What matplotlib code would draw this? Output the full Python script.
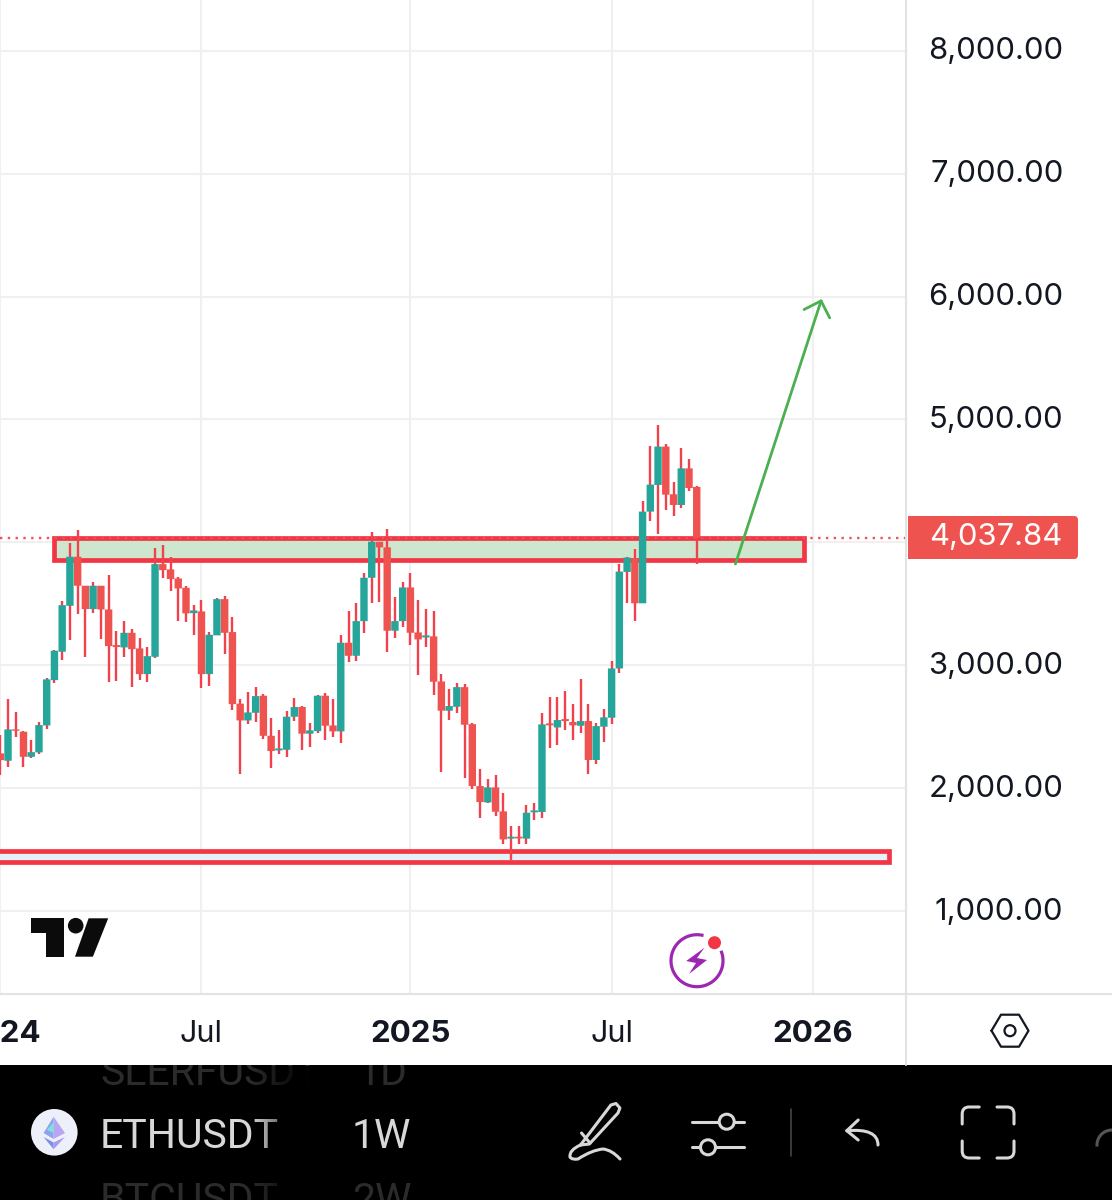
"""
ETHUSDT weekly chart, phone screenshot of the TradingView app.
"""
import matplotlib
matplotlib.use("Agg")
import matplotlib.dates as mdates
import matplotlib.pyplot as plt
import matplotlib.transforms as mtrans
import numpy as np
import pandas as pd
from matplotlib.patches import Circle, FancyBboxPatch, PathPatch, Polygon, Rectangle
from matplotlib.path import Path

plt.rcParams["font.family"] = ["Inter", "DejaVu Sans"]

# ── Data ──────────────────────────────────────────────────────────────────────
opens = [2283, 2223, 2478, 2459, 2255, 2291, 2510, 2879, 3110, 3484,
         3883, 3647, 3457, 3647, 3454, 3164, 3145, 3264, 3137, 2928,
         3069, 3823, 3780, 3706, 3630, 3424, 3438, 2928, 3243, 3538,
         3270, 2687, 2551, 2613, 2752, 2426, 2307, 2312, 2581, 2660,
         2443, 2464, 2752, 2510, 2462, 3183, 3077, 3359, 3712, 4005,
         3959, 3281, 3359, 3633, 3267, 3226, 3235, 2868, 2630, 2662,
         2822, 2521, 2017, 1884, 2006, 1811, 1589, 1605, 1589, 1803,
         1806, 2527, 2494, 2562, 2538, 2508, 2546, 2229, 2500, 2573,
         2974, 3759, 3870, 3504, 4250, 4467, 4779, 4391, 4304, 4602,
         4451]
highs = [2432, 2722, 2622, 2467, 2391, 2540, 2898, 3123, 3522, 3991,
         4100, 3647, 3677, 3647, 3731, 3275, 3359, 3291, 3218, 3150,
         3950, 3978, 3883, 3715, 3644, 3489, 3530, 3267, 3549, 3563,
         3395, 2722, 2779, 2820, 2765, 2567, 2472, 2630, 2730, 2668,
         2527, 2757, 2771, 2725, 3248, 3443, 3503, 3747, 4086, 4005,
         4108, 3552, 3677, 3747, 3530, 3454, 3438, 2925, 2803, 2855,
         2844, 2527, 2155, 2071, 2104, 1957, 1692, 1692, 1863, 1876,
         2608, 2744, 2739, 2793, 2682, 2885, 2682, 2527, 2641, 3037,
         3824, 3884, 3943, 4337, 4787, 4955, 4798, 4491, 4771, 4676,
         4456]
lows = [2106, 2169, 2418, 2169, 2242, 2274, 2478, 2852, 3042, 3205,
        3414, 3064, 3427, 3210, 2860, 2874, 3069, 2825, 2879, 2866,
        3056, 3706, 3603, 3362, 3354, 3245, 2817, 2833, 3243, 3091,
        2635, 2114, 2519, 2540, 2397, 2161, 2277, 2255, 2543, 2310,
        2334, 2445, 2391, 2418, 2364, 3023, 3037, 3259, 3503, 3511,
        3104, 3224, 3308, 3161, 2923, 3145, 2754, 2133, 2551, 2613,
        2079, 1995, 1759, 1876, 1773, 1543, 1415, 1545, 1543, 1738,
        1760, 2329, 2353, 2473, 2391, 2446, 2117, 2193, 2378, 2519,
        2939, 3504, 3360, 3504, 4174, 4068, 4263, 4215, 4282, 4418,
        3821]
closes = [2228, 2478, 2467, 2255, 2293, 2513, 2885, 3118, 3489, 3883,
          3647, 3457, 3647, 3454, 3156, 3148, 3264, 3131, 2928, 3074,
          3823, 3774, 3701, 3625, 3422, 3446, 2928, 3248, 3538, 3264,
          2684, 2551, 2616, 2749, 2426, 2302, 2323, 2581, 2660, 2443,
          2470, 2752, 2508, 2462, 3183, 3077, 3359, 3712, 4005, 3959,
          3281, 3359, 3633, 3264, 3210, 3243, 2866, 2630, 2668, 2822,
          2516, 2017, 1887, 2006, 1808, 1583, 1605, 1591, 1800, 1819,
          2519, 2511, 2554, 2546, 2511, 2546, 2229, 2505, 2576, 2974,
          3762, 3876, 3504, 4250, 4470, 4779, 4388, 4304, 4602, 4442,
          4037.84]
week_start = "2024-01-01"

price_ticks = [1000, 2000, 3000, 4000, 5000, 6000, 7000, 8000]
price_labels = ["1,000.00", "2,000.00", "3,000.00", "", "5,000.00", "6,000.00", "7,000.00", "8,000.00"]
time_ticks = ["2024-01-01", "2024-07-01", "2025-01-06", "2025-07-07", "2026-01-05"]
time_labels = ["2024", "Jul", "2025", "Jul", "2026"]
time_bold = [True, False, True, False, True]

last_price = closes[-1]
last_label = "4,037.84"

zone_dates = ["2024-02-19", "2025-12-28"]
zone_prices = [3856, 4033]
floor_dates = ["2023-12-01", "2026-03-15"]
floor_prices = [1395, 1492]
target_dates = ["2025-10-27", "2026-01-13"]
target_prices = [3824, 5980]

# ── Palette ───────────────────────────────────────────────────────────────────
UP = "#26a69a"
DOWN = "#ef5350"
WICK = "#f0414c"
BAND = "#f23645"
GRID = "#f0f0f1"
BORDER = "#e2e3e5"
INK = "#131722"
ICON = "#d8d8d8"

W, H = 1112, 1200
fig = plt.figure(figsize=(W / 100, H / 100), dpi=100, facecolor="white")

# ── Chart pane ────────────────────────────────────────────────────────────────
ax = fig.add_axes([0, 1 - 994 / H, 906 / W, 994 / H])
for s in ax.spines.values():
    s.set_visible(False)

dates = pd.date_range(week_start, periods=len(opens), freq="7D")
x = mdates.date2num(dates)
o, c = np.array(opens, float), np.array(closes, float)
is_up = c >= o
ax.vlines(x, lows, highs, color=WICK, lw=1.7, zorder=3)
ax.bar(x, np.abs(c - o), bottom=np.minimum(o, c), width=6.7,
       color=np.where(is_up, UP, DOWN), linewidth=0, zorder=4, snap=False)

ax.axhline(last_price, color="#f0505a", lw=1.7, ls=(0, (1, 2.3)), zorder=2.5)

zx = mdates.datestr2num(zone_dates)
ax.add_patch(Rectangle((zx[0], zone_prices[0]), zx[1] - zx[0], zone_prices[1] - zone_prices[0],
                       facecolor="#cde6cd", edgecolor=BAND, lw=3.4, joinstyle="miter", zorder=2))
fx = mdates.datestr2num(floor_dates)
ax.add_patch(Rectangle((fx[0], floor_prices[0]), fx[1] - fx[0], floor_prices[1] - floor_prices[0],
                       facecolor="#e2f2f7", edgecolor=BAND, lw=3.4, joinstyle="miter", zorder=2))

tx = mdates.datestr2num(target_dates)
ax.annotate("", xy=(tx[1], target_prices[1]), xytext=(tx[0], target_prices[0]),
            arrowprops=dict(arrowstyle="->,head_length=9.7,head_width=9.7", mutation_scale=1,
                            color="#4caf50", lw=2, shrinkA=0, shrinkB=0), zorder=5)

ax.set_xlim(mdates.datestr2num("2023-12-31 18:00"), mdates.datestr2num("2026-03-30 07:00"))
ax.set_ylim(325, 8413)
ax.set_yticks(price_ticks)
ax.set_yticklabels(price_labels)
ax.yaxis.tick_right()
ax.set_xticks(mdates.datestr2num(time_ticks))
ax.set_xticklabels(time_labels)
ax.tick_params(axis="y", length=0, pad=113.4, labelsize=22.3, labelcolor=INK)
ax.tick_params(axis="x", length=0, pad=18.5, labelsize=22, labelcolor=INK)
nudge = mtrans.ScaledTranslation(0, 2.5 / 100, fig.dpi_scale_trans)
for lab in ax.get_yticklabels():
    lab.set_horizontalalignment("right")
    lab.set_transform(lab.get_transform() + nudge)
for lab, bold in zip(ax.get_xticklabels(), time_bold):
    lab.set_fontweight("bold" if bold else "normal")
    lab.set_fontsize(22.5 if bold else 22)
ax.grid(True, color=GRID, lw=1.5, zorder=0)
ax.set_axisbelow(True)

# ── Overlay in pixel coordinates: borders, logo, app toolbar ──────────────────
ov = fig.add_axes([0, 0, 1, 1], facecolor="none")
ov.set_xlim(0, W)
ov.set_ylim(H, 0)
ov.axis("off")


def line(xs, ys, color=ICON, lw=2.2, z=6):
    ov.plot(xs, ys, color=color, lw=lw, solid_capstyle="round", solid_joinstyle="round", zorder=z)


def curve(verts, codes, color=ICON, lw=2.2, z=6):
    ov.add_patch(PathPatch(Path(verts, codes), facecolor="none", edgecolor=color, lw=lw,
                           capstyle="round", zorder=z))


line([0, W], [994, 994], color=BORDER, lw=1.5)
line([906, 906], [0, 1065], color=BORDER, lw=1.5)

# last price tag
ov.add_patch(FancyBboxPatch((914, 520), 160, 35, boxstyle="round,pad=4,rounding_size=4",
                            facecolor=DOWN, edgecolor="none", zorder=5))
ov.add_patch(Rectangle((908, 516), 14, 43, facecolor=DOWN, edgecolor="none", zorder=5))
ov.text(929, 537, last_label, color="white", fontsize=22.3, va="center", ha="left", zorder=6)

# TradingView logo
LOGO = "#0b0b0b"
ov.add_patch(Polygon([(31, 918.3), (63.6, 918.3), (63.6, 956.7), (46.4, 956.7), (46.4, 933.3), (31, 933.3)],
                     facecolor=LOGO, edgecolor="none"))
ov.add_patch(Circle((75.7, 925.7), 7.8, facecolor=LOGO, edgecolor="none"))
ov.add_patch(Polygon([(88.6, 918.3), (108.2, 918.3), (92.9, 956.7), (75, 956.7)],
                     facecolor=LOGO, edgecolor="none"))

# lightning badge
t = np.radians(np.linspace(-19, 281, 80))
ov.plot(697 + 26 * np.cos(t), 960.7 + 26 * np.sin(t), color="#9c27b0", lw=2.3)
ov.add_patch(Polygon([(704.5, 947.7), (686.2, 961), (696, 963), (689, 974), (707, 960), (697, 958)],
                     facecolor="#9c27b0", edgecolor="none"))
ov.add_patch(Circle((714.5, 942.7), 6.5, facecolor="#f23645", edgecolor="none"))

# settings hexagon
cx, cy = 1010, 1030.7
line([cx - 18.5, cx - 9, cx + 9, cx + 18.5, cx + 9, cx - 9, cx - 18.5],
     [cy, cy - 16, cy - 16, cy, cy + 16, cy + 16, cy], color=INK, lw=1.6)
ov.add_patch(Circle((cx, cy), 5.5, facecolor="none", edgecolor=INK, lw=1.6))

# black toolbar
bar = Rectangle((0, 1065), W, H - 1065, facecolor="black", edgecolor="none", zorder=1)
ov.add_patch(bar)
for txt, tx_, ty_ in [("SLERFUSDT", 100, 1085), ("1D", 358, 1085), ("BTCUSDT", 100, 1212), ("2W", 352, 1212)]:
    faded = ov.text(tx_, ty_, txt, color="#2b2b2b", fontsize=29.5, family=["Roboto", "DejaVu Sans"],
                    va="baseline", ha="left", zorder=2)
    faded.set_clip_path(bar)
    faded.set_clip_on(True)
ov.text(100, 1148, "ETHUSDT", color=ICON, fontsize=29.5, family=["Roboto", "DejaVu Sans"],
        va="baseline", ha="left", zorder=3)
ov.text(352, 1148, "1W", color=ICON, fontsize=29.5, family=["Roboto", "DejaVu Sans"],
        va="baseline", ha="left", zorder=3)
fade = np.zeros((1, 60, 4))
fade[..., 3] = np.linspace(0, 1, 60)
ov.imshow(fade, extent=(250, 310, 1210, 1066), aspect="auto", zorder=4)
ov.set_xlim(0, W)
ov.set_ylim(H, 0)

# ETH coin
ov.add_patch(Circle((54.3, 1132.3), 23.3, facecolor="#eef0f9", edgecolor="none", zorder=5))
ov.add_patch(Polygon([(53.6, 1116.7), (53.6, 1139), (43.6, 1133)], facecolor="#8ea3ef", zorder=6))
ov.add_patch(Polygon([(53.6, 1116.7), (53.6, 1139), (65, 1133)], facecolor="#b9a6f3", zorder=6))
ov.add_patch(Polygon([(53.6, 1122), (53.6, 1133), (47, 1130)], facecolor="#7fe0de", zorder=6))
ov.add_patch(Polygon([(43.6, 1137), (53.6, 1142.5), (53.6, 1149.3)], facecolor="#7f8fe6", zorder=6))
ov.add_patch(Polygon([(65, 1137), (53.6, 1142.5), (53.6, 1149.3)], facecolor="#a89bef", zorder=6))

# pen
line([580.5, 610.9, 616, 619.9, 618, 589.4, 580.5], [1145, 1105, 1103.5, 1108, 1113, 1144, 1145])
line([581.5, 590], [1133, 1143])
curve([(580.5, 1145), (569, 1150), (570, 1157), (572, 1160), (578, 1159), (592, 1150), (603, 1149), (612, 1150), (620, 1159)],
      [Path.MOVETO] + [Path.CURVE3] * 8)

# sliders
line([692.3, 744], [1121.7, 1121.7])
line([692.3, 744], [1147.3, 1147.3])
ov.add_patch(Circle((726.7, 1121.7), 7.5, facecolor="black", edgecolor=ICON, lw=2.2, zorder=7))
ov.add_patch(Circle((708, 1147.3), 7.5, facecolor="black", edgecolor=ICON, lw=2.2, zorder=7))
line([790.9, 790.9], [1109, 1156], color="#444444", lw=1.2)

# undo
line([858.2, 846.8, 858.2], [1120, 1130.7, 1140])
curve([(846.8, 1130.7), (878, 1128), (878, 1145)], [Path.MOVETO, Path.CURVE3, Path.CURVE3])

# fullscreen corners
L, R, T, B = 962.2, 1014, 1107, 1158
for cnx, cny, sx, sy in [(L, T, 1, 1), (R, T, -1, 1), (L, B, 1, -1), (R, B, -1, -1)]:
    curve([(cnx + sx * 17, cny), (cnx + sx * 7, cny), (cnx, cny), (cnx, cny + sy * 7), (cnx, cny + sy * 17)],
          [Path.MOVETO, Path.LINETO, Path.CURVE3, Path.CURVE3, Path.LINETO])

# cut-off icon at the right edge
t = np.radians(np.linspace(180, 270, 30))
ov.plot(1112 + 15 * np.cos(t), 1145 + 15 * np.sin(t), color="#555555", lw=2.2)

fig.savefig("out.png", dpi=100, facecolor="white")
